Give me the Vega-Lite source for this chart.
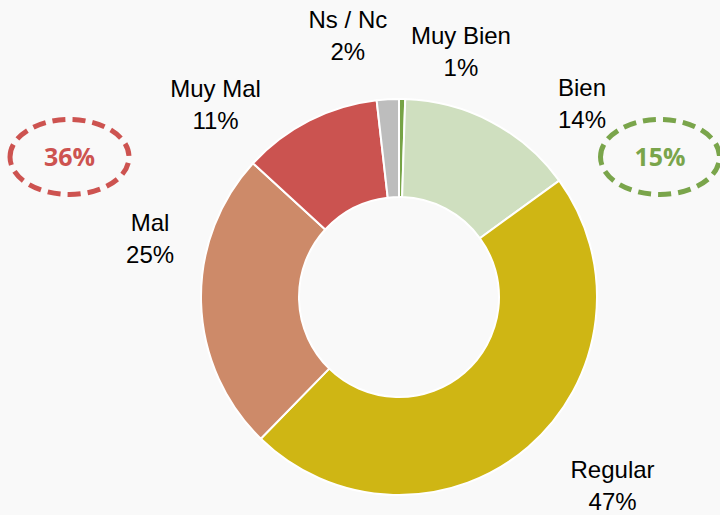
{
  "$schema": "https://vega.github.io/schema/vega-lite/v6.json",
  "width": 640,
  "height": 436,
  "padding": {"left": 79, "top": 79, "right": 1, "bottom": 0},
  "autosize": {"type": "none"},
  "background": "#f9f9f9",
  "config": {"view": {"stroke": null}},
  "datasets": {
    "respuestas": [
      {"cat": "Muy Bien", "valor": 0.5, "orden": 1, "etiqueta": "Muy Bien\n1%"},
      {"cat": "Bien", "valor": 14.5, "orden": 2, "etiqueta": "Bien\n14%"},
      {"cat": "Regular", "valor": 47.3, "orden": 3, "etiqueta": "Regular\n47%"},
      {"cat": "Mal", "valor": 24.5, "orden": 4, "etiqueta": "Mal\n25%"},
      {"cat": "Muy Mal", "valor": 11.4, "orden": 5, "etiqueta": "Muy Mal\n11%"},
      {"cat": "Ns / Nc", "valor": 1.8, "orden": 6, "etiqueta": "Ns / Nc\n2%"}
    ],
    "grupos": [
      {"grupo": "Negativo", "total": "36%"},
      {"grupo": "Positivo", "total": "15%"}
    ]
  },
  "layer": [
    {
      "data": {"name": "respuestas"},
      "mark": {"type": "arc", "innerRadius": 100, "outerRadius": 198, "stroke": "#ffffff", "strokeWidth": 2},
      "encoding": {
        "theta": {"field": "valor", "type": "quantitative", "stack": true},
        "order": {"field": "orden"},
        "color": {
          "field": "cat", "type": "nominal",
          "scale": {
            "domain": ["Muy Bien", "Bien", "Regular", "Mal", "Muy Mal", "Ns / Nc"],
            "range": ["#76a345", "#cfdfbf", "#cfb614", "#cd8a69", "#cb5350", "#bdbdbd"]
          },
          "legend": null
        }
      }
    },
    {
      "data": {"name": "respuestas"},
      "mark": {"type": "text", "radius": 250, "dx": 58, "dy": -10, "fontSize": 24, "font": "Liberation Sans", "lineBreak": "\n", "lineHeight": 32, "fill": "#000000"},
      "encoding": {
        "theta": {"field": "valor", "type": "quantitative", "stack": true},
        "order": {"field": "orden"},
        "detail": {"field": "cat"},
        "text": {"condition": {"test": "datum.cat === 'Muy Bien'", "field": "etiqueta"}, "value": ""}
      }
    },
    {
      "data": {"name": "respuestas"},
      "mark": {"type": "text", "radius": 250, "dx": 66, "dy": 13, "fontSize": 24, "font": "Liberation Sans", "lineBreak": "\n", "lineHeight": 32, "fill": "#000000"},
      "encoding": {
        "theta": {"field": "valor", "type": "quantitative", "stack": true},
        "order": {"field": "orden"},
        "detail": {"field": "cat"},
        "text": {"condition": {"test": "datum.cat === 'Bien'", "field": "etiqueta"}, "value": ""}
      }
    },
    {
      "data": {"name": "respuestas"},
      "mark": {"type": "text", "radius": 250, "dx": 50, "dy": -15, "fontSize": 24, "font": "Liberation Sans", "lineBreak": "\n", "lineHeight": 32, "fill": "#000000"},
      "encoding": {
        "theta": {"field": "valor", "type": "quantitative", "stack": true},
        "order": {"field": "orden"},
        "detail": {"field": "cat"},
        "text": {"condition": {"test": "datum.cat === 'Regular'", "field": "etiqueta"}, "value": ""}
      }
    },
    {
      "data": {"name": "respuestas"},
      "mark": {"type": "text", "radius": 250, "dx": 1, "dy": -80, "fontSize": 24, "font": "Liberation Sans", "lineBreak": "\n", "lineHeight": 32, "fill": "#000000"},
      "encoding": {
        "theta": {"field": "valor", "type": "quantitative", "stack": true},
        "order": {"field": "orden"},
        "detail": {"field": "cat"},
        "text": {"condition": {"test": "datum.cat === 'Mal'", "field": "etiqueta"}, "value": ""}
      }
    },
    {
      "data": {"name": "respuestas"},
      "mark": {"type": "text", "radius": 250, "dx": -70, "dy": 16, "fontSize": 24, "font": "Liberation Sans", "lineBreak": "\n", "lineHeight": 32, "fill": "#000000"},
      "encoding": {
        "theta": {"field": "valor", "type": "quantitative", "stack": true},
        "order": {"field": "orden"},
        "detail": {"field": "cat"},
        "text": {"condition": {"test": "datum.cat === 'Muy Mal'", "field": "etiqueta"}, "value": ""}
      }
    },
    {
      "data": {"name": "respuestas"},
      "mark": {"type": "text", "radius": 250, "dx": -37, "dy": -26, "fontSize": 24, "font": "Liberation Sans", "lineBreak": "\n", "lineHeight": 32, "fill": "#000000"},
      "encoding": {
        "theta": {"field": "valor", "type": "quantitative", "stack": true},
        "order": {"field": "orden"},
        "detail": {"field": "cat"},
        "text": {"condition": {"test": "datum.cat === 'Ns / Nc'", "field": "etiqueta"}, "value": ""}
      }
    },
    {
      "data": {"name": "grupos"},
      "mark": {"type": "point", "shape": "M -1 0 A 1 0.63 0 1 1 1 0 A 1 0.63 0 1 1 -1 0 Z", "size": 14161, "filled": false, "strokeWidth": 5, "strokeDash": [13, 7], "opacity": 1, "yOffset": -140},
      "encoding": {
        "x": {"field": "grupo", "type": "nominal", "scale": {"type": "point", "domain": ["Negativo", "Positivo"], "range": [-9.5, 581], "padding": 0}, "axis": null},
        "stroke": {"field": "grupo", "type": "nominal", "scale": {"domain": ["Negativo", "Positivo"], "range": ["#cd5350", "#7aa54b"]}, "legend": null}
      }
    },
    {
      "data": {"name": "grupos"},
      "mark": {"type": "text", "font": "Open Sans", "fontWeight": "bold", "fontSize": 25, "yOffset": -139},
      "encoding": {
        "x": {"field": "grupo", "type": "nominal", "scale": {"type": "point", "domain": ["Negativo", "Positivo"], "range": [-9.5, 581], "padding": 0}, "axis": null},
        "text": {"field": "total"},
        "fill": {"field": "grupo", "type": "nominal", "scale": {"domain": ["Negativo", "Positivo"], "range": ["#cd5350", "#7aa54b"]}, "legend": null}
      }
    }
  ]
}
